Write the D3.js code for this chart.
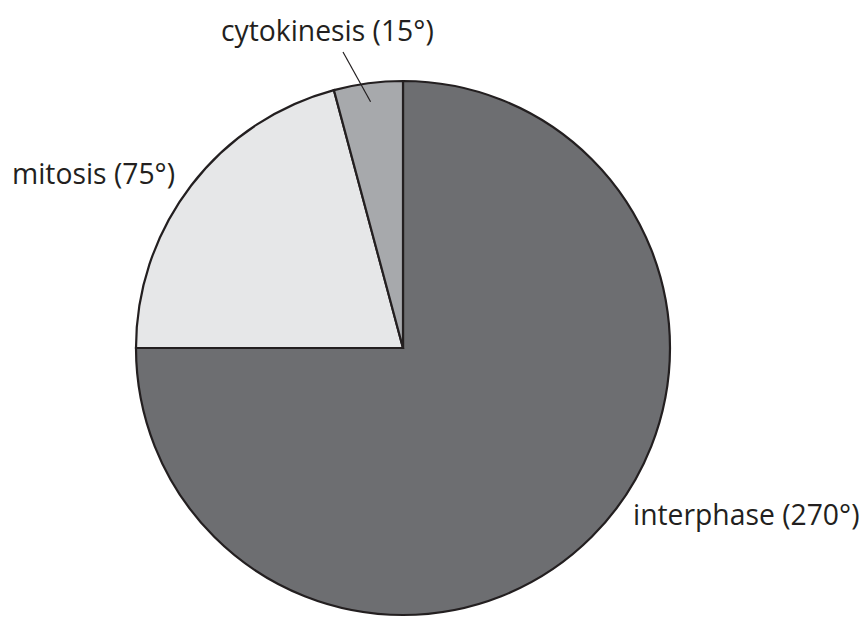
<!DOCTYPE html>
<html>
<head>
<meta charset="utf-8">
<script src="https://cdn.jsdelivr.net/npm/d3@7"></script>
<style>
  body { margin: 0; background: #fff; }
  .lbl { font-family: "Open Sans", sans-serif; font-size: 28.3px; fill: #231f20; }
</style>
</head>
<body>
<div class="chart"></div>
<script>
// phases of the cell cycle, in degrees
var phases = ["interphase", "mitosis", "cytokinesis"];
var degrees = [270, 75, 15];
var labels = ["interphase (270°)", "mitosis (75°)", "cytokinesis (15°)"];
var colors = ["#6d6e71", "#e6e7e8", "#a7a9ac"];

var svgWidth = 865;
var svgHeight = 619;

var cx = 403, cy = 348, radius = 267;

var svg = d3.select(".chart")
  .append("svg")
  .attr("width", svgWidth)
  .attr("height", svgHeight);

var pieData = phases.map((p, i) => ({ name: p, value: degrees[i], label: labels[i], color: colors[i] }));

var pie = d3.pie()
  .value(d => d.value)
  .sort(null);

var arc = d3.arc()
  .innerRadius(0)
  .outerRadius(radius);

var chartGroup = svg.append("g")
  .attr("transform", `translate(${cx}, ${cy})`);

var arcs = pie(pieData);

chartGroup.selectAll("path")
  .data(arcs)
  .enter()
  .append("path")
  .attr("d", arc)
  .attr("fill", d => d.data.color)
  .attr("stroke", "#231f20")
  .attr("stroke-width", 2.2)
  .attr("stroke-linejoin", "miter");

// label placement (text start / baseline)
var labelPos = {
  interphase: [633, 525],
  mitosis: [12, 184],
  cytokinesis: [221, 41]
};

svg.selectAll("text.lbl")
  .data(pieData)
  .enter()
  .append("text")
  .attr("class", "lbl")
  .attr("x", d => labelPos[d.name][0])
  .attr("y", d => labelPos[d.name][1])
  .text(d => d.label);

// leader line for the small cytokinesis slice
var cyto = arcs[2];
var inner = d3.arc().innerRadius(radius * 0.93).outerRadius(radius * 0.93);
var tip = inner.centroid(cyto);
svg.append("line")
  .attr("x1", 343)
  .attr("y1", 52)
  .attr("x2", cx + tip[0])
  .attr("y2", cy + tip[1])
  .attr("stroke", "#231f20")
  .attr("stroke-width", 1.2);
</script>
</body>
</html>
